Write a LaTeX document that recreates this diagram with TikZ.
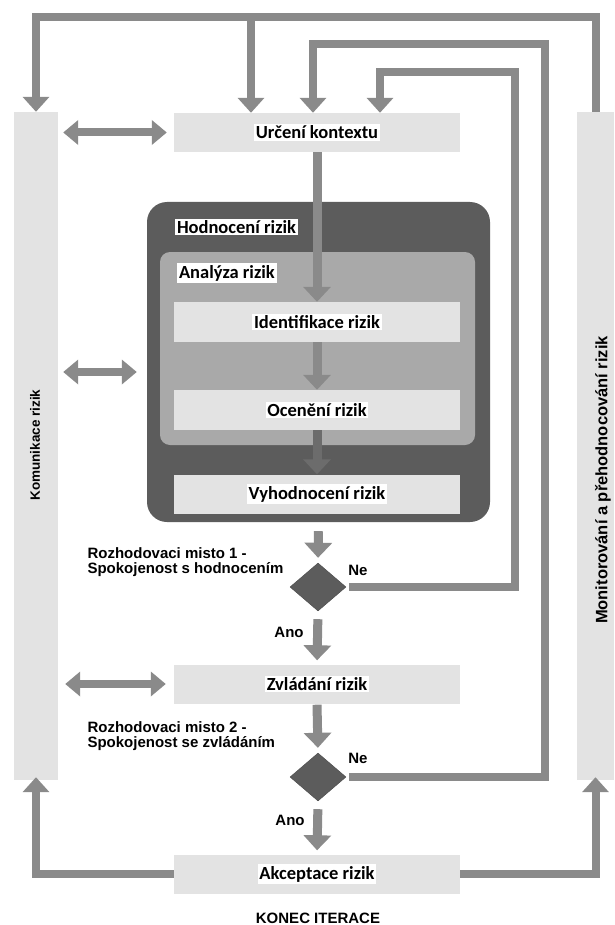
\documentclass[tikz,border=0pt]{standalone}
\usepackage{fontspec}
\setmainfont{Carlito}
\newfontfamily\arialfont{Liberation Sans}
\usepackage{xcolor}
\usetikzlibrary{arrows.meta,positioning,shapes.geometric}
\definecolor{bargray}{HTML}{E3E3E3}
\definecolor{darkbox}{HTML}{5C5C5C}
\definecolor{midbox}{HTML}{A9A9A9}
\definecolor{arrowgray}{HTML}{8A8A8A}
\definecolor{innerarrow}{HTML}{6C6C6C}
\newcommand{\whitelab}[1]{{\setlength{\fboxsep}{1.8pt}\colorbox{white}{#1}}}

\begin{document}
\begin{tikzpicture}[x=1pt,y=-1pt,
  bar/.style={fill=bargray,minimum width=#1,minimum height=668pt,inner sep=0pt},
  procbox/.style={fill=bargray,minimum width=286pt,minimum height=39pt,inner sep=0pt,
    font=\fontsize{18.5}{21}\selectfont\bfseries},
  tag/.style={anchor=west,inner sep=0pt,font=\fontsize{18.5}{21}\selectfont\bfseries},
  decide/.style={diamond,fill=darkbox,draw=darkbox!80!black,minimum width=56pt,minimum height=48pt,inner sep=0pt},
  note/.style={align=left,font=\arialfont\fontsize{15}{15}\selectfont\bfseries},
  flow/.style={draw=arrowgray,line width=9pt,-{Triangle[width=27pt,length=15pt]}},
  loop/.style={draw=arrowgray,line width=8pt,line join=miter,-{Triangle[width=26pt,length=15pt]}},
  both/.style={draw=arrowgray,line width=8pt,{Triangle[width=24pt,length=15pt]}-{Triangle[width=24pt,length=15pt]}}]
\fill[white] (0,0) rectangle (614,925);
\useasboundingbox (0,0) rectangle (614,925);

% side bars
\node[bar=44pt] (kom) at (36,446) {};
\node[bar=37pt] (mon) at (595.5,446) {};
\node[rotate=90,font=\arialfont\fontsize{13.5}{16}\selectfont\bfseries] (komtxt) at (35,445) {Komunikace rizik};
\node[rotate=90,font=\arialfont\fontsize{16.5}{19}\selectfont\bfseries] (montxt) at (603,480) {Monitorování a přehodnocování rizik};

% hodnoceni rizik
\node[rounded corners=20pt,fill=darkbox,minimum width=343pt,minimum height=320pt] (hod) at (318.5,362) {};
\node[rounded corners=10pt,fill=midbox,minimum width=315pt,minimum height=193pt] (ana) at (317.5,348.5) {};
\node[tag] (hodtxt) at (175,227) {\whitelab{Hodnocení rizik}};
\node[tag] (anatxt) at (177,273) {\whitelab{Analýza rizik}};

\node[procbox] (urc) at (317,132.5) {\whitelab{Určení kontextu}};
\node[procbox,minimum height=40pt] (ide) at (317,322) {\whitelab{Identifikace rizik}};
\node[procbox,minimum height=40pt] (oce) at (317,410) {\whitelab{Ocenění rizik}};
\node[procbox] (vyh) at (317,494) {\whitelab{Vyhodnocení rizik}};
\node[decide] (dec1) at (318,587) {};
\node[procbox] (zvl) at (317,684) {\whitelab{Zvládání rizik}};
\node[decide] (dec2) at (318,777) {};
\node[procbox] (akc) at (317,874) {\whitelab{Akceptace rizik}};

\node[note,anchor=west] (dec1txt) at (84,562.5) {Rozhodovaci misto 1 -\\Spokojenost s hodnocením};
\node[note,anchor=west] (dec2txt) at (84,736) {Rozhodovaci misto 2 -\\Spokojenost se zvládáním};
\node[note] (ne1) at (358,570) {Ne};
\node[note] (ano1) at (289,632) {Ano};
\node[note] (ne2) at (358,758) {Ne};
\node[note] (ano2) at (290,820) {Ano};
\node[font=\arialfont\fontsize{15}{17}\selectfont\bfseries] (konec) at (318,918) {KONEC ITERACE};

\coordinate (topy) at (0,17);
\coordinate (brk) at (251,17);
\coordinate (back1) at (515,72);
\coordinate (back2) at (545,44);
\coordinate (komlink) at (0,372);

% main flow
\draw[flow] (urc.south) -- (ide.north);
\draw[flow] (ide.south) -- (oce.north);
\draw[flow,draw=innerarrow] (oce.south) -- (vyh.north);
\draw[flow,shorten <=9pt,shorten >=5pt] (hod.south) -- (dec1.north);
\draw[flow,shorten <=8pt,shorten >=4pt] (dec1.south) -- (zvl.north);
\draw[flow,shorten <=1pt,shorten >=5pt] (zvl.south) -- (dec2.north);
\draw[flow,shorten <=8pt,shorten >=4pt] (dec2.south) -- (akc.north);

% iterations back
\draw[loop] ([xshift=3pt]dec1.east) -| (back1) -| ([xshift=63pt]urc.north);
\draw[loop] ([xshift=3pt]dec2.east) -| (back2) -| ([xshift=-4pt]urc.north);
\draw[loop] (mon.north) -- (mon.north |- topy) -| (kom.north);
\draw[loop] (brk) -- (brk |- urc.north);
\draw[loop,shorten >=-3pt] (akc.west) -| (kom.south);
\draw[loop,shorten >=-3pt] (akc.east) -| (mon.south);

% komunikace
\draw[both] ([xshift=5pt]kom.east |- urc) -- ([xshift=-7pt]urc.west);
\draw[both] ([xshift=5pt]kom.east |- komlink) -- ([xshift=-10pt]hod.west |- komlink);
\draw[both] ([xshift=7pt]kom.east |- zvl) -- ([xshift=-8pt]zvl.west);
\end{tikzpicture}
\end{document}
